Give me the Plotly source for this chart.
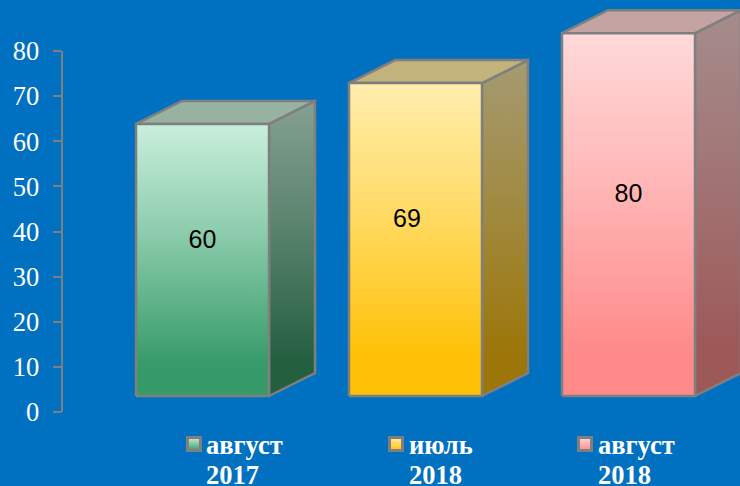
import plotly.graph_objects as go

# data
names = ["август", "июль", "август"]
years = ["2017", "2018", "2018"]
values = [60, 69, 80]
y_ticks = [0, 10, 20, 30, 40, 50, 60, 70, 80]

# styles
front_top = ["#C9EFDC", "#FFEEAE", "#FFD9D9"]
front_bot = ["#379B69", "#FFC106", "#FF8A8A"]
side_top = ["#85A092", "#A59A72", "#A58C8C"]
side_bot = ["#245F40", "#9C7608", "#9D5858"]
roof = ["#97B2A1", "#C2B27C", "#C4A3A3"]
edge = "#7F7F7F"
bg = "#0070C0"

W, H = 740, 486
spacing = 213.0
first_center = 202.5
bar_w = 133.0 / spacing
depth_x = 46.0 / spacing
unit_px = 4.535
base_px = 396.0
depth_y = 23.0 / unit_px
label_lift = 18.5 / unit_px
label_shift = [0, -8.5 / spacing, 0]

legend_mark_x = [194, 396, 585]
legend_text_x = [203.5, 406.5, 595.5]

fig = go.Figure()


def grad(top, bottom):
    return dict(type="vertical", colorscale=[[0, bottom], [0.12, bottom], [0.55, None], [1, top]])


def mix(a, b, t):
    ca = [int(a[k:k + 2], 16) for k in (1, 3, 5)]
    cb = [int(b[k:k + 2], 16) for k in (1, 3, 5)]
    return "#%02X%02X%02X" % tuple(round(x + (y - x) * t) for x, y in zip(ca, cb))


def grad(top, bottom):
    return dict(type="vertical",
                colorscale=[[0, bottom], [0.12, bottom], [0.6, mix(bottom, top, 0.58)], [1, top]])


for i, v in enumerate(values):
    l, r = i - bar_w / 2, i + bar_w / 2
    common = dict(mode="lines", fill="toself", line=dict(color=edge, width=2.5),
                  yaxis="y2", hoverinfo="skip", showlegend=False)
    # side face
    fig.add_trace(go.Scatter(
        x=[r, r + depth_x, r + depth_x, r, r],
        y=[0, depth_y, v + depth_y, v, 0],
        fillgradient=grad(side_top[i], side_bot[i]), **common))
    # top face
    fig.add_trace(go.Scatter(
        x=[l, l + depth_x, r + depth_x, r, l],
        y=[v, v + depth_y, v + depth_y, v, v],
        fillcolor=roof[i], **common))
    # front face
    fig.add_trace(go.Scatter(
        x=[l, l, r, r, l],
        y=[0, v, v, 0, 0],
        fillgradient=grad(front_top[i], front_bot[i]), **common))

# value labels
fig.add_trace(go.Scatter(
    x=[i + label_shift[i] for i in range(len(values))],
    y=[v / 2 + label_lift for v in values],
    text=[str(v) for v in values],
    mode="text", textposition="middle center",
    textfont=dict(family="Liberation Sans", size=25, color="black"),
    yaxis="y2", hoverinfo="skip", showlegend=False, cliponaxis=False))

# carries the visible value axis
fig.add_trace(go.Scatter(x=list(range(len(values))), y=values, mode="markers",
                         marker=dict(opacity=0), xaxis="x2", yaxis="y",
                         hoverinfo="skip", showlegend=False))

# legend swatches
for i in range(len(names)):
    fig.add_trace(go.Scatter(
        x=[(legend_mark_x[i] - first_center) / spacing],
        y=[(base_px - 444) / unit_px],
        mode="markers",
        marker=dict(symbol="square", size=13, color=front_top[i],
                    gradient=dict(type="vertical", color=front_bot[i]),
                    line=dict(color=edge, width=3)),
        yaxis="y2", hoverinfo="skip", showlegend=False))
    fig.add_annotation(xref="paper", yref="paper", x=legend_text_x[i] / W, y=1 - 445 / H,
                       text=f"<b>{names[i]}</b>", showarrow=False, xanchor="left", yanchor="middle",
                       font=dict(family="Liberation Serif", size=26.5, color="white"))
    fig.add_annotation(xref="paper", yref="paper", x=legend_text_x[i] / W, y=1 - 475 / H,
                       text=f"<b>{years[i]}</b>", showarrow=False, xanchor="left", yanchor="middle",
                       font=dict(family="Liberation Serif", size=26.5, color="white"))

fig.update_layout(
    width=W, height=H, autosize=False,
    margin=dict(l=0, r=0, t=0, b=0, autoexpand=False),
    paper_bgcolor=bg, plot_bgcolor="rgba(0,0,0,0)",
    xaxis=dict(range=[-first_center / spacing, (W - first_center) / spacing],
               domain=[0, 1], visible=False, anchor="y2", fixedrange=True),
    xaxis2=dict(range=[0, 1], domain=[62.5 / W, 1], visible=False, anchor="y", fixedrange=True),
    yaxis=dict(range=[0, 80], domain=[1 - 412 / H, 1 - 51 / H], anchor="x2", side="left",
               tickvals=y_ticks, ticks="outside", ticklen=8, tickwidth=2, tickcolor=edge,
               showline=True, linecolor=edge, linewidth=2, showgrid=False, zeroline=False,
               tickfont=dict(family="Liberation Serif", size=26.5, color="white"), ticklabelstandoff=8),
    yaxis2=dict(range=[(base_px - H) / unit_px, base_px / unit_px], domain=[0, 1],
                visible=False, anchor="x", fixedrange=True),
)
fig.write_html("out.html", config={"displayModeBar": False},
               post_script="document.body.style.margin='0';document.documentElement.style.background='#0070C0';")
